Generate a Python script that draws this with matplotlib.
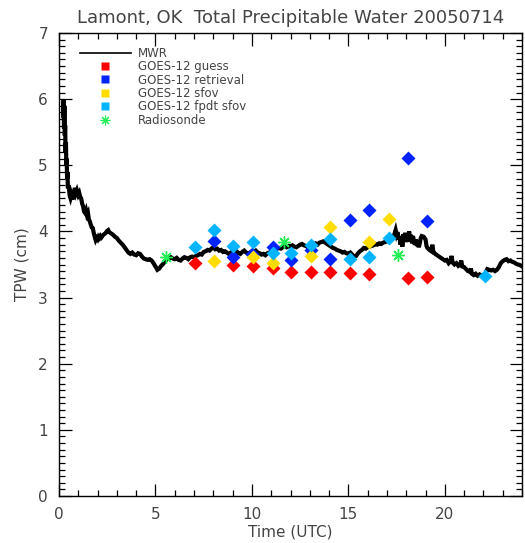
import matplotlib
matplotlib.use("Agg")
import matplotlib.pyplot as plt
from matplotlib.lines import Line2D
from matplotlib.ticker import MultipleLocator

# ---------------- data ----------------
mwr_time = [0.22,0.24,0.26,0.28,0.30,0.32,0.34,0.36,0.38,0.40,0.42,0.44,0.46,0.50,0.55,0.60,0.65,0.70,0.75,0.80,
            0.83,0.88,0.93,1.00,1.05,1.10,1.15,1.20,1.25,1.30,1.35,1.40,1.45,1.50,1.55,1.60,1.65,1.70,1.75,1.80,
            1.85,1.90,1.95,2.00,2.05,2.10,2.15,2.20,2.30,2.40,2.50,2.55,2.60,2.70,2.80,2.90,3.00,3.10,3.20,3.30,
            3.40,3.50,3.60,3.70,3.80,3.90,4.00,4.10,4.20,4.30,4.40,4.50,4.60,4.70,4.80,4.90,5.00,5.10,5.20,5.30,
            5.40,5.50,5.60,5.70,5.80,5.90,6.00,6.10,6.20,6.30,6.40,6.50,6.60,6.70,6.80,6.90,7.00,7.10,7.20,7.30,
            7.40,7.50,7.60,7.70,7.80,7.90,8.00,8.10,8.20,8.30,8.40,8.50,8.60,8.70,8.80,8.90,9.00,9.10,9.20,9.30,
            9.40,9.50,9.60,9.70,9.80,9.90,10.00,10.10,10.20,10.30,10.40,10.50,10.60,10.70,10.80,10.90,11.00,11.10,11.20,11.30,
            11.40,11.50,11.60,11.70,11.80,11.90,12.00,12.10,12.20,12.30,12.40,12.50,12.60,12.70,12.80,12.90,13.00,13.10,13.20,13.30,
            13.40,13.50,13.60,13.70,13.80,13.90,14.00,14.10,14.20,14.30,14.40,14.50,14.60,14.70,14.80,14.90,15.00,15.10,15.20,15.30,
            15.40,15.50,15.60,15.70,15.80,15.90,16.00,16.10,16.20,16.30,16.40,16.50,16.60,16.70,16.80,16.90,17.00,17.10,17.20,17.30,
            17.40,17.45,17.50,17.55,17.60,17.65,17.70,17.75,17.80,17.85,17.90,17.95,18.00,18.05,18.10,18.15,18.20,18.25,18.30,18.35,
            18.40,18.45,18.50,18.55,18.60,18.65,18.70,18.75,18.80,18.90,19.00,19.05,19.10,19.20,19.30,19.35,19.40,19.50,19.60,19.70,
            19.80,19.90,20.00,20.10,20.20,20.30,20.35,20.40,20.50,20.60,20.70,20.80,20.85,20.90,21.00,21.10,21.20,21.30,21.35,21.40,
            21.50,21.60,21.70,21.80,21.90,22.00,22.10,22.15,22.20,22.30,22.40,22.50,22.60,22.70,22.80,22.90,23.00,23.10,23.20,23.30,
            23.40,23.50,23.60,23.70,23.80,23.90,24.00]
mwr_tpw = [5.75,5.99,5.55,5.90,5.45,5.60,5.20,5.35,5.00,5.10,4.80,4.90,4.65,4.70,4.55,4.50,4.55,4.48,4.62,4.55,
           4.66,4.58,4.62,4.55,4.58,4.52,4.50,4.42,4.38,4.30,4.28,4.32,4.25,4.28,4.18,4.15,4.10,4.06,4.05,3.98,
           3.92,3.87,3.90,3.88,3.92,3.90,3.93,3.91,3.95,3.97,4.01,4.02,3.99,3.97,3.95,3.92,3.90,3.86,3.83,3.80,
           3.76,3.72,3.68,3.66,3.68,3.65,3.64,3.67,3.66,3.62,3.59,3.58,3.57,3.58,3.56,3.52,3.47,3.42,3.44,3.48,
           3.51,3.55,3.58,3.60,3.61,3.59,3.58,3.60,3.57,3.56,3.59,3.61,3.60,3.58,3.61,3.62,3.61,3.63,3.64,3.66,
           3.65,3.69,3.70,3.72,3.71,3.74,3.76,3.73,3.74,3.71,3.72,3.69,3.70,3.68,3.66,3.68,3.70,3.73,3.70,3.67,
           3.66,3.69,3.71,3.68,3.66,3.68,3.70,3.69,3.71,3.68,3.67,3.65,3.66,3.64,3.67,3.68,3.70,3.72,3.71,3.74,
           3.75,3.74,3.76,3.77,3.76,3.78,3.77,3.79,3.77,3.76,3.78,3.80,3.81,3.79,3.78,3.76,3.77,3.79,3.81,3.82,
           3.80,3.83,3.84,3.85,3.83,3.81,3.79,3.77,3.75,3.74,3.72,3.71,3.70,3.68,3.69,3.67,3.66,3.68,3.65,3.62,
           3.63,3.67,3.70,3.72,3.75,3.74,3.76,3.77,3.78,3.79,3.81,3.80,3.82,3.81,3.83,3.84,3.85,3.87,3.86,3.90,
           3.97,4.02,3.95,3.99,3.88,3.93,3.80,3.90,3.77,3.96,3.86,3.98,3.84,3.92,3.87,4.00,3.85,3.95,3.82,3.93,
           3.85,3.80,3.88,3.78,3.84,3.76,3.82,3.90,3.93,3.92,3.88,3.78,3.75,3.72,3.70,3.80,3.70,3.66,3.64,3.62,
           3.60,3.58,3.56,3.57,3.52,3.55,3.63,3.53,3.50,3.52,3.48,3.50,3.56,3.47,3.46,3.43,3.40,3.39,3.44,3.36,
           3.34,3.36,3.33,3.35,3.33,3.34,3.32,3.40,3.43,3.42,3.41,3.42,3.40,3.42,3.46,3.52,3.55,3.57,3.58,3.55,
           3.56,3.54,3.53,3.51,3.50,3.49,3.47]

guess_time = [7.05, 9.03, 10.07, 11.07, 12.05, 13.06, 14.06, 15.08, 16.08, 18.07, 19.07]
guess_tpw  = [3.52, 3.50, 3.48, 3.44, 3.38, 3.39, 3.38, 3.37, 3.35, 3.29, 3.31]

retr_time = [8.05, 9.03, 10.03, 11.07, 12.05, 13.06, 14.06, 15.08, 16.08, 18.07, 19.07]
retr_tpw  = [3.86, 3.62, 3.66, 3.76, 3.57, 3.72, 3.58, 4.18, 4.32, 5.11, 4.16]

sfov_time = [8.05, 10.07, 11.07, 13.06, 14.06, 16.08, 17.08]
sfov_tpw  = [3.55, 3.61, 3.53, 3.63, 4.06, 3.84, 4.19]

fpdt_time = [7.05, 8.05, 9.03, 10.07, 11.07, 12.05, 13.06, 14.06, 15.08, 16.08, 17.08, 22.10]
fpdt_tpw  = [3.76, 4.02, 3.78, 3.84, 3.67, 3.67, 3.79, 3.88, 3.58, 3.61, 3.90, 3.32]

sonde_time = [5.54, 11.67, 17.58]
sonde_tpw  = [3.62, 3.84, 3.64]

labels = ["MWR", "GOES-12 guess", "GOES-12 retrieval", "GOES-12 sfov",
          "GOES-12 fpdt sfov", "Radiosonde"]
title = "Lamont, OK  Total Precipitable Water 20050714"

# ---------------- style ----------------
C_RED, C_BLUE, C_YEL, C_CYAN, C_GRN = "#ff0000", "#0022ff", "#ffdd00", "#00b4ff", "#22ee55"
TXT = "#444444"

fig = plt.figure(figsize=(5.25, 5.43), dpi=100)
ax = fig.add_axes([59/525, 47/543, 463/525, 463/543])

ax.plot(mwr_time, mwr_tpw, color="black", lw=3.0, solid_joinstyle="miter", zorder=2)
ms = 6.8
ax.plot(guess_time, guess_tpw, ls="none", marker="D", ms=ms, color=C_RED, mec="none", zorder=3)
ax.plot(retr_time, retr_tpw, ls="none", marker="D", ms=ms, color=C_BLUE, mec="none", zorder=3)
ax.plot(sfov_time, sfov_tpw, ls="none", marker="D", ms=ms, color=C_YEL, mec="none", zorder=4)
ax.plot(fpdt_time, fpdt_tpw, ls="none", marker="D", ms=ms, color=C_CYAN, mec="none", zorder=5)
ax.plot(sonde_time, sonde_tpw, ls="none", marker=(8, 2, 0), ms=9, mew=1.0, color=C_GRN, zorder=6)

ax.set_xlim(0, 24)
ax.set_ylim(0, 7)
ax.xaxis.set_major_locator(MultipleLocator(5))
ax.xaxis.set_minor_locator(MultipleLocator(1))
ax.yaxis.set_major_locator(MultipleLocator(1))
ax.yaxis.set_minor_locator(MultipleLocator(0.1))
ax.tick_params(which="both", direction="in", top=True, right=True, color="black",
               labelcolor=TXT, labelsize=11, width=0.9)
ax.tick_params(which="major", length=9, pad=8)
ax.tick_params(which="minor", length=4.5)
for s in ax.spines.values():
    s.set_linewidth(1.0)

ax.set_xlabel("Time (UTC)", fontsize=11, color=TXT, labelpad=2)
ax.set_ylabel("TPW (cm)", fontsize=11, color=TXT, labelpad=6)
ax.set_title(title, fontsize=13, color=TXT, pad=7)

handles = [
    Line2D([], [], color="black", lw=1.2),
    Line2D([], [], ls="none", marker="s", ms=5.5, color=C_RED, mec="none"),
    Line2D([], [], ls="none", marker="s", ms=5.5, color=C_BLUE, mec="none"),
    Line2D([], [], ls="none", marker="s", ms=5.5, color=C_YEL, mec="none"),
    Line2D([], [], ls="none", marker="s", ms=5.5, color=C_CYAN, mec="none"),
    Line2D([], [], ls="none", marker=(8, 2, 0), ms=7, mew=0.8, color=C_GRN),
]
leg = ax.legend(handles, labels, loc="upper left", bbox_to_anchor=(0.045, 0.970),
                frameon=False, fontsize=8.5, handlelength=4.3, handletextpad=0.65,
                labelspacing=0.03, borderpad=0, borderaxespad=0)
for t in leg.get_texts():
    t.set_color(TXT)

fig.savefig("out.png", dpi=100)
